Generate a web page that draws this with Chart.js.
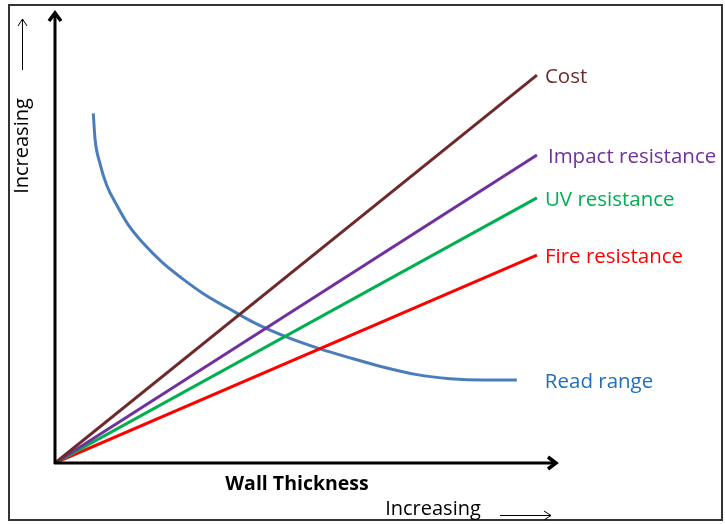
<!DOCTYPE html>
<html>
<head>
<meta charset="utf-8">
<script src="https://cdn.jsdelivr.net/npm/chart.js@4"></script>
<style>
  html, body { margin: 0; padding: 0; background: #fff; }
  #wrap { width: 725px; height: 524px; }
</style>
</head>
<body>
<div id="wrap"><canvas id="wallChart" width="725" height="524"></canvas></div>
<script>
// wall thickness (0 = origin, 100 = arrow tip), values in same relative units
const thickness = [0, 96];
const cost = [0, 86];
const impact = [0, 68.3];
const uv = [0, 58.8];
const fire = [0, 46.1];

const readX = [7.63, 7.97, 8.96, 10.3, 12.29, 14.6, 17.59, 21.25, 25.24, 29.88, 34.52, 39.84, 46.2, 52.8, 58.8, 65.3, 72.1, 78.7, 85.3, 92.0];
const readY = [77.5, 71.9, 66.4, 61.6, 57.2, 52.8, 48.7, 44.6, 41.0, 37.3, 34.3, 31.0, 27.9, 25.3, 23.3, 21.3, 19.6, 18.7, 18.4, 18.4];

const seriesNames = ['Cost', 'Impact resistance', 'UV resistance', 'Fire resistance', 'Read range'];
const seriesColors = ['#6e2a2a', '#7030a0', '#00b050', '#ff0000', '#4a7ebb'];
const labelColors = ['#6e2a2a', '#7030a0', '#00b050', '#ff0000', '#1f6fc0'];

const FONT = '"Open Sans", sans-serif';

function pts(xs, ys) {
    return xs.map(function(x, i) { return { x: x, y: ys[i] }; });
}

const lineData = [cost, impact, uv, fire];
const datasets = lineData.map(function(vals, i) {
    return {
        label: seriesNames[i],
        data: pts(thickness, vals),
        borderColor: seriesColors[i],
        borderWidth: 3,
        pointRadius: 0,
        tension: 0
    };
});
datasets.push({
    label: seriesNames[4],
    data: pts(readX, readY),
    borderColor: seriesColors[4],
    borderWidth: 3,
    pointRadius: 0,
    cubicInterpolationMode: 'monotone'
});

// axes with arrows, frame and text labels
const decor = {
    id: 'decor',
    afterDraw(chart) {
        const ctx = chart.ctx;
        const xs = chart.scales.x, ys = chart.scales.y;
        const x0 = xs.getPixelForValue(0), y0 = ys.getPixelForValue(0);
        const xEnd = xs.getPixelForValue(100), yEnd = ys.getPixelForValue(100);
        ctx.save();

        // outer frame
        ctx.strokeStyle = '#333';
        ctx.lineWidth = 2;
        ctx.strokeRect(9, 5, 713, 515);

        // axes
        ctx.strokeStyle = '#000';
        ctx.lineWidth = 3;
        ctx.lineCap = 'butt';
        ctx.beginPath();
        ctx.moveTo(x0, y0 + 1);
        ctx.lineTo(x0, yEnd + 2);
        ctx.moveTo(x0 - 1, y0);
        ctx.lineTo(xEnd - 2, y0);
        ctx.stroke();
        ctx.lineJoin = 'miter';
        ctx.lineWidth = 3.5;
        ctx.beginPath();
        ctx.moveTo(x0 - 6, yEnd + 9);
        ctx.lineTo(x0, yEnd + 1);
        ctx.lineTo(x0 + 6, yEnd + 9);
        ctx.moveTo(xEnd - 9, y0 - 6);
        ctx.lineTo(xEnd - 1, y0);
        ctx.lineTo(xEnd - 9, y0 + 6);
        ctx.stroke();

        // series labels at the line ends
        ctx.font = '20.5px ' + FONT;
        ctx.textBaseline = 'middle';
        ctx.textAlign = 'left';
        const ends = [
            [thickness[1], cost[1]],
            [thickness[1], impact[1]],
            [thickness[1], uv[1]],
            [thickness[1], fire[1]],
            [readX[readX.length - 1], readY[readY.length - 1]]
        ];
        const dx = [8, 11, 8, 8, 28];
        ends.forEach(function(e, i) {
            ctx.fillStyle = labelColors[i];
            ctx.fillText(seriesNames[i], xs.getPixelForValue(e[0]) + dx[i], ys.getPixelForValue(e[1]) + 2);
        });

        // axis titles
        ctx.fillStyle = '#000';
        ctx.font = 'bold 19.5px ' + FONT;
        ctx.textAlign = 'center';
        ctx.fillText('Wall Thickness', 297, 484);
        ctx.font = '20px ' + FONT;
        ctx.fillText('Increasing', 433, 509);
        ctx.save();
        ctx.translate(22, 146);
        ctx.rotate(-Math.PI / 2);
        ctx.fillText('Increasing', 0, 0);
        ctx.restore();

        // small "increasing" arrows
        ctx.lineWidth = 1;
        ctx.beginPath();
        ctx.moveTo(500, 515.5);
        ctx.lineTo(551, 515.5);
        ctx.moveTo(544, 511);
        ctx.lineTo(551, 515.5);
        ctx.lineTo(544, 520);
        ctx.moveTo(22.5, 70);
        ctx.lineTo(22.5, 19);
        ctx.moveTo(18, 26);
        ctx.lineTo(22.5, 19);
        ctx.lineTo(27, 26);
        ctx.stroke();

        ctx.restore();
    }
};

const config = {
    type: 'line',
    data: { datasets: datasets },
    options: {
        responsive: false,
        animation: false,
        layout: { padding: { left: 55, right: 168, top: 12, bottom: 61 } },
        plugins: { legend: { display: false }, tooltip: { enabled: false } },
        scales: {
            x: { type: 'linear', min: 0, max: 100, display: false },
            y: { type: 'linear', min: 0, max: 100, display: false }
        }
    },
    plugins: [decor]
};

const myChart = new Chart(document.getElementById('wallChart'), config);
</script>
</body>
</html>
